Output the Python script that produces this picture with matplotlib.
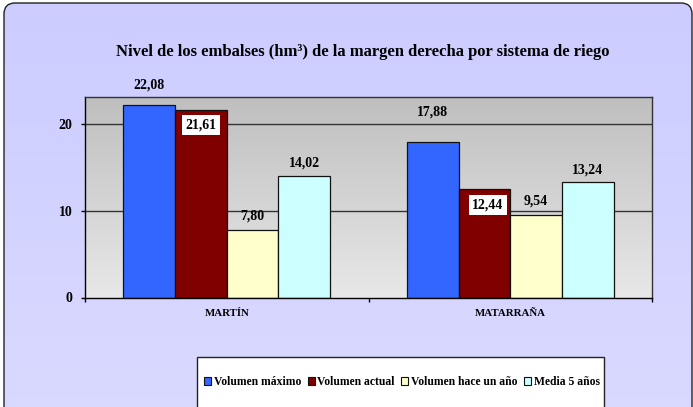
import numpy as np
import matplotlib
matplotlib.use("Agg")
import matplotlib.pyplot as plt
from matplotlib.patches import FancyBboxPatch, Rectangle

categories = ["MARTÍN", "MATARRAÑA"]
series_names = ["Volumen máximo", "Volumen actual", "Volumen hace un año", "Media 5 años"]
vol_maximo = [22.08, 17.88]
vol_actual = [21.61, 12.44]
vol_hace_un_ano = [7.80, 9.54]
media_5_anos = [14.02, 13.24]
yticks = [0, 10, 20]
title = "Nivel de los embalses (hm³) de la margen derecha por sistema de riego"

series = [vol_maximo, vol_actual, vol_hace_un_ano, media_5_anos]
colors = ["#3366FF", "#800000", "#FFFFCC", "#CCFFFF"]
# label offsets in points (vertical), per series
label_off = [14.5, -11, 9.5, 9]

W, H = 693, 407
fig = plt.figure(figsize=(W / 100, H / 100), dpi=100)
fig.patch.set_facecolor("white")
serif = ["Liberation Serif", "DejaVu Serif"]

# background axes in pixel coords
bg = fig.add_axes([0, 0, 1, 1])
bg.set_xlim(0, W)
bg.set_ylim(H, 0)
bg.axis("off")
grad = np.linspace(0, 1, 256).reshape(-1, 1)
c_top = np.array([0xCC, 0xCC, 0xFF]) / 255
c_bot = np.array([0xDA, 0xDA, 0xFF]) / 255
img = c_top + (c_bot - c_top) * grad[:, :, None]
box = FancyBboxPatch((4, 3), 688, 425, boxstyle="round,pad=0,rounding_size=11",
                     facecolor="none", edgecolor="#222222", linewidth=1.0, zorder=3)
bg.add_patch(box)
im = bg.imshow(img, extent=[4, 692, 428, 3], aspect="auto", zorder=1)
im.set_clip_path(box)

# legend box
bg.add_patch(Rectangle((197, 357), 407, 70, facecolor="white", edgecolor="#222222",
                       linewidth=1.0, zorder=4))

# title
bg.text(363, 52, title, ha="center", va="center", fontsize=12, fontweight="bold",
        family=serif, zorder=5)

# plot axes
L, R, T, B = 85, 652, 97, 297.5
ax = fig.add_axes([L / W, 1 - B / H, (R - L) / W, (B - T) / H])
pg = np.linspace(0, 1, 256).reshape(-1, 1)
p_top = np.array([0xBF, 0xBF, 0xBF]) / 255
p_bot = np.array([0xE8, 0xE8, 0xE8]) / 255
pimg = p_top + (p_bot - p_top) * pg[:, :, None]
ax.imshow(pimg, extent=[-0.5, 1.5, 0, 23.05], aspect="auto", zorder=0)
ax.set_xlim(-0.5, 1.5)
ax.set_ylim(0, 23.05)

for yv in yticks[1:]:
    ax.axhline(yv, color="#333333", linewidth=1.0, zorder=1)

w = 0.1824
x = np.arange(len(categories))
handles = []
for i, (vals, col) in enumerate(zip(series, colors)):
    xs = x + (i - 1.5) * w
    bars = ax.bar(xs, vals, width=w, color=col, edgecolor="#111111", linewidth=0.9,
                  zorder=2, label=series_names[i])
    handles.append(bars)
    for xi, v in zip(xs, vals):
        txt = f"{v:.2f}".replace(".", ",")
        if i == 1:
            ax.annotate(txt, (xi, v), xytext=(2.5 if v < 15 else 0, label_off[i]),
                        textcoords="offset points", ha="center", va="center",
                        fontsize=10, fontweight="bold", family=serif, zorder=5,
                        bbox=dict(boxstyle="square,pad=0.25", facecolor="white",
                                  edgecolor="none"))
        else:
            off = label_off[i]
            if i == 0 and v < 20:
                off = 21.5
            ax.annotate(txt, (xi, v), xytext=(0, off), textcoords="offset points",
                        ha="center", va="center", fontsize=10, fontweight="bold",
                        family=serif, zorder=5, annotation_clip=False)

for s in ax.spines.values():
    s.set_color("#333333")
    s.set_linewidth(1.0)
ax.spines["left"].set_color("black")
ax.spines["bottom"].set_color("black")

ax.set_yticks(yticks)
ax.set_yticklabels([str(t) for t in yticks], fontsize=10, fontweight="bold", family=serif)
ax.tick_params(axis="y", length=3, pad=6, width=1)
ax.set_xticks(x)
ax.set_xticklabels(categories, fontsize=7.8, fontweight="bold", family=serif)
ax.set_xticks([-0.5, 0.5, 1.5], minor=True)
ax.tick_params(axis="x", which="major", length=0, pad=8)
ax.tick_params(axis="x", which="minor", length=3, width=1)

leg = fig.legend(handles=handles, labels=series_names, loc="center",
                 bbox_to_anchor=(402 / W, 1 - 382 / H), ncol=4, frameon=False,
                 prop={"family": serif, "weight": "bold", "size": 8.4},
                 handlelength=0.6, handleheight=0.6, handletextpad=0.25,
                 columnspacing=0.55, borderpad=0)
leg.set_zorder(6)
for h in leg.legend_handles:
    h.set_linewidth(0.8)

fig.savefig("out.png", dpi=100, facecolor="white")
